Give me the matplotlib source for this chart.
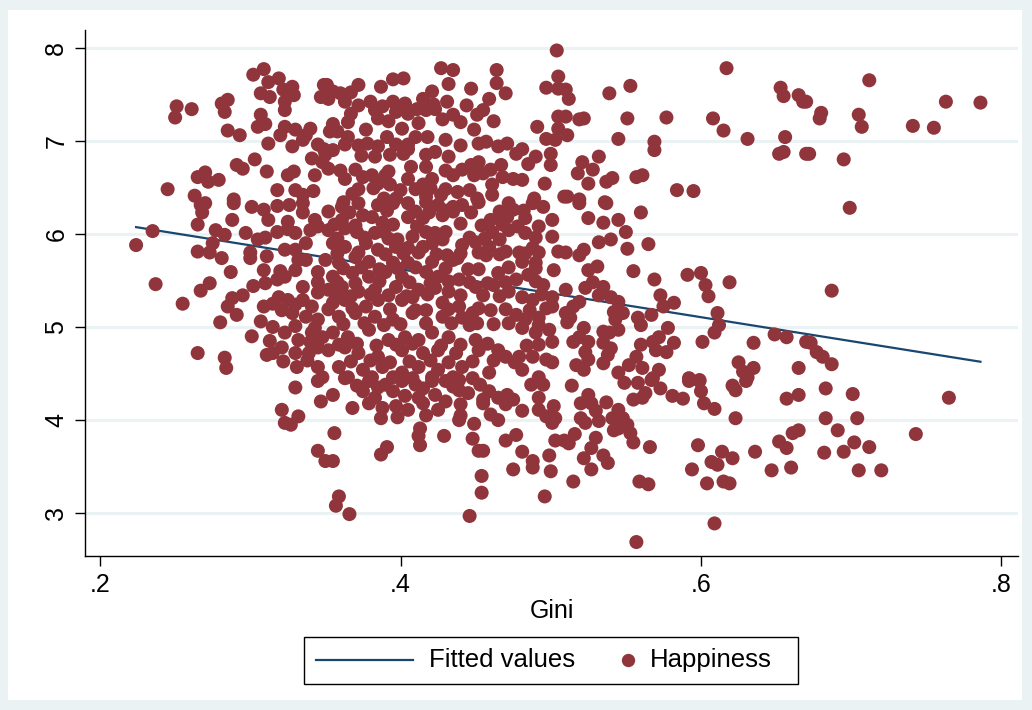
import matplotlib
matplotlib.use("Agg")
import matplotlib.pyplot as plt
from matplotlib.patches import Rectangle
from matplotlib.lines import Line2D
import numpy as np

plt.rcParams["font.family"] = ["Liberation Sans", "DejaVu Sans"]

# (Gini, Happiness) observations
obs = [
    (.309, 7.77), (.302, 7.71), (.312, 7.63), (.319, 7.67), (.322, 7.55), (.328, 7.58), (.329, 7.49),
    (.307, 7.51), (.313, 7.47), (.323, 7.42), (.323, 7.33), (.349, 7.60), (.347, 7.47), (.251, 7.37),
    (.261, 7.34), (.250, 7.25), (.281, 7.40), (.285, 7.44), (.283, 7.31), (.307, 7.28), (.310, 7.18),
    (.305, 7.15), (.285, 7.11), (.293, 7.06), (.323, 7.15), (.320, 7.06), (.330, 7.12), (.337, 7.06),
    (.340, 7.13), (.335, 7.01), (.312, 6.97), (.328, 6.94), (.345, 6.96), (.349, 6.91), (.341, 6.81),
    (.348, 6.77), (.343, 6.63), (.303, 6.80), (.291, 6.74), (.295, 6.70), (.311, 6.67), (.325, 6.63),
    (.329, 6.67), (.265, 6.61), (.270, 6.66), (.272, 6.56), (.279, 6.58), (.245, 6.48), (.263, 6.41),
    (.289, 6.37), (.318, 6.47), (.330, 6.47), (.335, 6.42), (.342, 6.46),
    (.504, 7.97), (.427, 7.78), (.435, 7.76), (.464, 7.76), (.464, 7.62), (.432, 7.61), (.447, 7.56),
    (.372, 7.60), (.387, 7.58), (.395, 7.66), (.402, 7.67), (.351, 7.60), (.497, 7.57), (.505, 7.56),
    (.505, 7.69), (.360, 7.51), (.367, 7.52), (.363, 7.42), (.352, 7.45), (.355, 7.53), (.380, 7.42),
    (.383, 7.33), (.395, 7.42), (.403, 7.40), (.415, 7.45), (.421, 7.53), (.431, 7.42), (.459, 7.45),
    (.470, 7.51), (.455, 7.33), (.451, 7.28), (.367, 7.29), (.397, 7.31), (.405, 7.29), (.411, 7.34),
    (.417, 7.33), (.423, 7.34), (.428, 7.23), (.435, 7.28), (.401, 7.13), (.385, 7.24), (.355, 7.18),
    (.358, 7.10), (.353, 7.10), (.377, 7.12), (.449, 7.12), (.491, 7.15), (.505, 7.26), (.505, 7.13),
    (.497, 7.02), (.503, 7.01), (.365, 7.04), (.363, 6.96), (.378, 6.97), (.391, 7.04), (.397, 6.96),
    (.410, 7.04), (.418, 7.04), (.430, 7.01), (.452, 6.97), (.457, 6.99), (.471, 6.97), (.481, 6.91),
    (.477, 6.86), (.490, 6.83), (.485, 6.75), (.500, 6.86), (.500, 6.74), (.355, 6.90), (.350, 6.85),
    (.374, 6.84), (.383, 6.83), (.393, 6.85), (.402, 6.86), (.405, 6.91), (.417, 6.85), (.423, 6.88),
    (.432, 6.83), (.352, 6.70), (.407, 6.72), (.417, 6.72), (.405, 6.59), (.421, 6.59), (.415, 6.53),
    (.363, 6.59), (.368, 6.43), (.375, 6.61), (.381, 6.63), (.385, 6.54), (.393, 6.53), (.390, 6.63),
    (.435, 6.63), (.441, 6.69), (.447, 6.74), (.452, 6.77), (.449, 6.63), (.455, 6.65), (.467, 6.74),
    (.461, 6.53), (.468, 6.61), (.475, 6.59), (.481, 6.58), (.430, 6.48), (.438, 6.45), (.427, 6.42),
    (.496, 6.54), (.489, 6.38), (.509, 6.40), (.362, 6.34), (.389, 6.38), (.397, 6.38), (.417, 6.40),
    (.451, 6.38), (.461, 6.42),
    (.617, 7.78), (.539, 7.51), (.553, 7.59), (.510, 7.55), (.512, 7.45), (.510, 7.26), (.519, 7.23),
    (.522, 7.24), (.551, 7.24), (.577, 7.25), (.608, 7.24), (.615, 7.11), (.631, 7.02), (.653, 7.57),
    (.655, 7.48), (.665, 7.49), (.668, 7.42), (.656, 7.04), (.652, 6.86), (.655, 6.88), (.670, 6.86),
    (.511, 7.06), (.545, 7.02), (.569, 6.99), (.569, 6.90), (.532, 6.83), (.521, 6.77), (.528, 6.69),
    (.518, 6.65), (.525, 6.54), (.537, 6.56), (.541, 6.60), (.557, 6.61), (.561, 6.63), (.584, 6.47),
    (.595, 6.46), (.511, 6.40), (.519, 6.37), (.536, 6.34),
    (.712, 7.65), (.670, 7.42), (.680, 7.30), (.679, 7.24), (.705, 7.28), (.707, 7.15), (.741, 7.16),
    (.755, 7.14), (.763, 7.42), (.786, 7.41), (.672, 6.86), (.695, 6.80),
    (.235, 6.03), (.224, 5.88), (.265, 6.10), (.268, 6.23), (.267, 6.31), (.270, 6.33), (.289, 6.33),
    (.288, 6.15), (.301, 6.29), (.309, 6.26), (.312, 6.15), (.277, 6.04), (.283, 5.99), (.275, 5.90),
    (.281, 5.74), (.273, 5.80), (.265, 5.81), (.297, 6.01), (.305, 5.94), (.310, 5.96), (.318, 6.02),
    (.300, 5.80), (.300, 5.74), (.311, 5.76), (.325, 6.13), (.335, 6.33), (.335, 6.23), (.343, 6.15),
    (.345, 6.08), (.330, 6.01), (.337, 5.90), (.323, 5.83), (.330, 5.83), (.332, 5.72), (.337, 5.72),
    (.287, 5.59), (.309, 5.61), (.237, 5.46), (.267, 5.39), (.273, 5.47), (.255, 5.25), (.302, 5.44),
    (.288, 5.31), (.295, 5.34), (.285, 5.22), (.291, 5.13), (.309, 5.22), (.280, 5.05), (.307, 5.06),
    (.318, 5.51), (.323, 5.54), (.319, 5.32), (.325, 5.29), (.335, 5.43), (.335, 5.29), (.341, 5.22),
    (.345, 5.37), (.321, 5.18), (.328, 5.15), (.337, 5.11), (.345, 5.08), (.323, 4.94), (.332, 4.86),
    (.341, 4.94), (.348, 4.89), (.321, 4.78), (.330, 4.72), (.339, 4.72), (.345, 4.78), (.315, 4.72),
    (.311, 4.70), (.331, 4.57), (.345, 4.57), (.348, 4.46), (.301, 4.90), (.265, 4.72), (.283, 4.67),
    (.284, 4.56),
    (.361, 6.29), (.372, 6.33), (.385, 6.31), (.395, 6.33), (.405, 6.33), (.417, 6.34), (.425, 6.31),
    (.435, 6.29), (.441, 6.31), (.452, 6.34), (.472, 6.33), (.475, 6.26), (.488, 6.33), (.495, 6.29),
    (.361, 6.15), (.375, 6.20), (.381, 6.18), (.388, 6.12), (.405, 6.18), (.415, 6.17), (.419, 6.23),
    (.428, 6.20), (.435, 6.24), (.460, 6.15), (.465, 6.17), (.471, 6.18), (.483, 6.17), (.501, 6.15),
    (.352, 6.04), (.363, 6.06), (.371, 6.02), (.383, 6.01), (.389, 6.02), (.398, 5.94), (.408, 5.97),
    (.417, 6.02), (.423, 6.01), (.430, 6.02), (.461, 6.02), (.472, 6.04), (.478, 6.08), (.483, 6.01),
    (.501, 5.97), (.355, 5.90), (.363, 5.86), (.377, 5.90), (.385, 5.83), (.397, 5.86), (.405, 5.85),
    (.415, 5.86), (.421, 5.90), (.431, 5.77), (.441, 5.88), (.450, 5.91), (.459, 5.86), (.470, 5.81),
    (.479, 5.80), (.488, 5.85), (.492, 5.80), (.505, 5.81), (.350, 5.72), (.359, 5.69), (.370, 5.75),
    (.379, 5.70), (.395, 5.69), (.405, 5.69), (.421, 5.70), (.435, 5.72), (.438, 5.74), (.457, 5.77),
    (.481, 5.70), (.490, 5.69), (.502, 5.61), (.355, 5.54), (.368, 5.58), (.379, 5.54), (.390, 5.59),
    (.401, 5.54), (.417, 5.59), (.425, 5.54), (.439, 5.51), (.445, 5.62), (.465, 5.58), (.477, 5.51),
    (.485, 5.56), (.495, 5.45), (.352, 5.40), (.361, 5.43), (.372, 5.38), (.383, 5.40), (.397, 5.43),
    (.412, 5.40), (.423, 5.42), (.432, 5.38), (.450, 5.43), (.455, 5.34), (.462, 5.45), (.472, 5.38),
    (.481, 5.32), (.488, 5.29), (.501, 5.32), (.501, 5.22), (.355, 5.26), (.363, 5.29), (.377, 5.22),
    (.385, 5.29), (.401, 5.29), (.408, 5.32), (.417, 5.18), (.428, 5.26), (.439, 5.22), (.448, 5.15),
    (.460, 5.18), (.477, 5.13), (.483, 5.08), (.492, 5.10), (.359, 5.11), (.370, 5.15), (.383, 5.11),
    (.395, 5.08), (.408, 5.15), (.417, 5.04), (.428, 5.11), (.441, 5.10), (.451, 5.04), (.481, 4.99),
    (.490, 4.94), (.499, 4.97), (.501, 4.84), (.355, 4.94), (.365, 4.89), (.379, 4.97), (.392, 4.86),
    (.403, 4.89), (.412, 4.86), (.421, 4.94), (.432, 4.89), (.450, 4.86), (.452, 4.75), (.465, 4.75),
    (.352, 4.75), (.363, 4.78), (.372, 4.72), (.385, 4.68), (.401, 4.75), (.415, 4.72), (.425, 4.75),
    (.437, 4.72), (.470, 4.68), (.479, 4.68), (.488, 4.68), (.497, 4.65), (.501, 4.62), (.359, 4.57),
    (.375, 4.54), (.388, 4.57), (.401, 4.51), (.412, 4.57), (.425, 4.54), (.441, 4.57), (.459, 4.51),
    (.481, 4.54), (.492, 4.46), (.365, 4.46), (.381, 4.46), (.395, 4.46), (.408, 4.45), (.421, 4.46),
    (.435, 4.46), (.448, 4.45),
    (.352, 6.24), (.366, 6.23), (.391, 6.25), (.410, 6.24), (.430, 6.25), (.447, 6.23), (.466, 6.24),
    (.482, 6.25), (.356, 6.10), (.370, 6.09), (.395, 6.10), (.411, 6.08), (.440, 6.11), (.454, 6.09),
    (.468, 6.10), (.492, 6.08), (.358, 5.95), (.376, 5.96), (.392, 5.95), (.428, 5.94), (.446, 5.96),
    (.456, 5.95), (.466, 5.94), (.490, 5.96), (.358, 5.79), (.372, 5.80), (.390, 5.78), (.402, 5.79),
    (.412, 5.80), (.424, 5.78), (.440, 5.79), (.452, 5.80), (.466, 5.78), (.483, 5.79), (.362, 5.63),
    (.374, 5.64), (.386, 5.62), (.398, 5.63), (.410, 5.64), (.430, 5.63), (.452, 5.62), (.472, 5.64),
    (.490, 5.63), (.358, 5.48), (.370, 5.47), (.386, 5.49), (.406, 5.48), (.420, 5.47), (.432, 5.49),
    (.446, 5.48), (.458, 5.47), (.470, 5.48), (.490, 5.49), (.357, 5.34), (.367, 5.33), (.380, 5.35),
    (.392, 5.34), (.404, 5.33), (.418, 5.35), (.440, 5.34), (.466, 5.33), (.494, 5.35), (.352, 5.19),
    (.368, 5.20), (.393, 5.19), (.410, 5.18), (.432, 5.19), (.452, 5.20), (.470, 5.19), (.486, 5.18),
    (.497, 5.20), (.362, 5.03), (.376, 5.04), (.389, 5.02), (.400, 5.03), (.434, 5.04), (.446, 5.02),
    (.462, 5.03), (.472, 5.04), (.492, 5.02), (.359, 4.81), (.371, 4.82), (.384, 4.80), (.397, 4.81),
    (.408, 4.82), (.427, 4.80), (.440, 4.81), (.458, 4.82), (.484, 4.80), (.492, 4.81), (.367, 4.63),
    (.380, 4.64), (.393, 4.62), (.406, 4.63), (.420, 4.64), (.432, 4.62), (.448, 4.63), (.462, 4.64),
    (.476, 4.62), (.372, 6.48), (.382, 6.49), (.400, 6.47), (.410, 6.48), (.420, 6.49), (.446, 6.47),
    (.360, 6.68), (.370, 6.69), (.392, 6.67), (.430, 6.68), (.460, 6.69), (.372, 6.95), (.385, 6.94),
    (.405, 6.96), (.440, 6.95), (.465, 6.94), (.365, 7.20), (.392, 7.21), (.412, 7.19), (.440, 7.20),
    (.462, 7.21), (.372, 7.38), (.388, 7.37), (.422, 7.39), (.444, 7.38), (.325, 6.05), (.340, 6.04),
    (.320, 5.60), (.330, 5.61), (.345, 5.59), (.315, 5.25), (.330, 5.24), (.315, 5.00), (.330, 5.01),
    (.343, 4.99), (.313, 4.85), (.340, 4.84), (.310, 5.47), (.345, 5.48), (.322, 4.63), (.338, 4.64),
    (.318, 6.30), (.326, 6.31), (.385, 4.35), (.415, 4.34), (.435, 4.36), (.415, 4.18), (.440, 4.17),
    (.455, 4.18), (.470, 4.17), (.440, 4.05), (.460, 4.06),
    (.519, 6.33), (.537, 6.33), (.525, 6.17), (.535, 6.12), (.545, 6.15), (.550, 6.02), (.560, 6.23),
    (.532, 5.91), (.540, 5.94), (.551, 5.84), (.565, 5.89), (.510, 5.80), (.519, 5.77), (.522, 5.83),
    (.525, 5.61), (.531, 5.65), (.555, 5.60), (.569, 5.51), (.591, 5.56), (.600, 5.58), (.603, 5.45),
    (.605, 5.33), (.619, 5.48), (.510, 5.40), (.528, 5.48), (.535, 5.43), (.523, 5.42), (.532, 5.34),
    (.573, 5.34), (.575, 5.22), (.582, 5.26), (.540, 5.32), (.545, 5.27), (.519, 5.27), (.515, 5.22),
    (.510, 5.15), (.513, 5.10), (.511, 5.05), (.542, 5.16), (.548, 5.15), (.543, 5.08), (.545, 4.97),
    (.539, 4.94), (.535, 4.95), (.558, 5.10), (.560, 5.02), (.567, 5.13), (.611, 5.15), (.612, 5.02),
    (.609, 4.94), (.578, 4.99), (.522, 4.99), (.519, 4.89), (.515, 4.84), (.525, 4.84), (.523, 4.73),
    (.525, 4.65), (.535, 4.83), (.540, 4.77), (.538, 4.70), (.535, 4.61), (.560, 4.81), (.568, 4.84),
    (.572, 4.89), (.570, 4.75), (.577, 4.73), (.582, 4.83), (.601, 4.84), (.635, 4.83), (.649, 4.92),
    (.657, 4.89), (.670, 4.84), (.557, 4.68), (.552, 4.59), (.561, 4.56), (.572, 4.54), (.545, 4.51),
    (.568, 4.45), (.517, 4.59), (.522, 4.54), (.625, 4.62), (.628, 4.52), (.635, 4.56), (.631, 4.46),
    (.665, 4.56), (.592, 4.45), (.599, 4.43),
    (.699, 6.28), (.687, 5.39), (.673, 4.83), (.677, 4.73), (.681, 4.68), (.687, 4.60),
    (.330, 4.35), (.345, 4.42), (.347, 4.20), (.321, 4.11), (.332, 4.04), (.323, 3.97), (.327, 3.95),
    (.345, 3.67), (.350, 3.56),
    (.379, 4.42), (.390, 4.38), (.401, 4.42), (.410, 4.38), (.421, 4.42), (.430, 4.42), (.439, 4.43),
    (.375, 4.31), (.383, 4.24), (.395, 4.31), (.403, 4.26), (.412, 4.24), (.423, 4.27), (.430, 4.20),
    (.379, 4.18), (.388, 4.13), (.397, 4.15), (.405, 4.11), (.425, 4.11), (.355, 4.27), (.368, 4.13),
    (.371, 4.37), (.363, 4.45), (.387, 4.02), (.398, 4.03), (.417, 4.05), (.439, 4.32), (.445, 4.29),
    (.453, 4.38), (.459, 4.31), (.455, 4.22), (.465, 4.24), (.471, 4.27), (.475, 4.22), (.481, 4.10),
    (.487, 4.38), (.495, 4.38), (.492, 4.24), (.492, 4.11), (.502, 4.15), (.413, 3.91), (.412, 3.83),
    (.413, 3.73), (.429, 3.83), (.439, 4.00), (.449, 3.96), (.448, 3.80), (.452, 3.67), (.455, 3.67),
    (.465, 4.00), (.470, 3.78), (.477, 3.84), (.481, 3.66), (.488, 3.56), (.488, 3.49), (.499, 3.62),
    (.500, 3.45), (.497, 4.04), (.503, 4.02), (.501, 3.97), (.503, 3.78), (.509, 3.78), (.475, 3.47),
    (.454, 3.40), (.454, 3.22), (.446, 2.97), (.496, 3.18), (.356, 3.86), (.355, 3.56), (.391, 3.71),
    (.387, 3.63), (.359, 3.18), (.357, 3.08), (.366, 2.99),
    (.514, 4.37), (.525, 4.27), (.520, 4.18), (.527, 4.18), (.530, 4.10), (.520, 4.02), (.523, 3.97),
    (.532, 3.99), (.537, 4.19), (.545, 4.11), (.541, 4.02), (.548, 4.02), (.551, 3.95), (.542, 3.89),
    (.545, 3.91), (.553, 3.86), (.516, 3.85), (.512, 3.75), (.530, 3.81), (.527, 3.70), (.522, 3.59),
    (.535, 3.62), (.538, 3.54), (.555, 3.76), (.527, 3.47), (.566, 3.71), (.515, 3.34), (.559, 3.34),
    (.565, 3.31), (.549, 4.40), (.558, 4.40), (.567, 4.43), (.573, 4.34), (.581, 4.26), (.588, 4.23),
    (.555, 4.22), (.561, 4.24), (.563, 4.29), (.592, 4.42), (.599, 4.42), (.600, 4.31), (.602, 4.18),
    (.609, 4.12), (.621, 4.37), (.630, 4.42), (.623, 4.32), (.623, 4.02), (.657, 4.23), (.665, 4.27),
    (.598, 3.73), (.594, 3.47), (.607, 3.55), (.611, 3.52), (.614, 3.66), (.621, 3.59), (.604, 3.32),
    (.615, 3.34), (.619, 3.32), (.636, 3.66), (.652, 3.77), (.657, 3.70), (.661, 3.86), (.665, 3.89),
    (.647, 3.46), (.660, 3.49), (.609, 2.89), (.557, 2.69),
    (.683, 4.34), (.701, 4.28), (.683, 4.02), (.704, 4.02), (.691, 3.89), (.682, 3.65), (.695, 3.66),
    (.702, 3.76), (.705, 3.46), (.720, 3.46), (.712, 3.71), (.743, 3.85), (.765, 4.24),
]
gini, happiness = np.array(obs).T

# linear fit: Happiness on Gini
fit_intercept = 6.649
fit_slope = -2.573

x_ticks = [0.2, 0.4, 0.6, 0.8]
x_tick_labels = [".2", ".4", ".6", ".8"]
y_ticks = [3, 4, 5, 6, 7, 8]

maroon = "#90353B"
navy = "#1A476F"
bg = "#EAF2F3"

W, H = 1032, 710
fig = plt.figure(figsize=(W / 100, H / 100), dpi=100, facecolor=bg)
fig.patches.append(Rectangle((8 / W, 10 / H), (1022 - 8) / W, (700 - 10) / H,
                             transform=fig.transFigure, facecolor="white",
                             edgecolor="none", zorder=-10))

ax = fig.add_axes([85 / W, 1 - 556 / H, (1018 - 85) / W, (556 - 30) / H])
ax.set_facecolor("white")

fit_x = np.array([gini.min(), gini.max()])
fit_y = fit_intercept + fit_slope * fit_x
ax.plot(fit_x, fit_y, color=navy, lw=1.6, zorder=2)
ax.scatter(gini, happiness, s=102, color=maroon, edgecolors="none", zorder=3)

ax.set_xlim(0.190, 0.811)
ax.set_ylim(2.54, 8.19)
ax.set_xticks(x_ticks)
ax.set_xticklabels(x_tick_labels)
ax.set_yticks(y_ticks)
ax.set_yticklabels([str(v) for v in y_ticks], rotation=90, va="center")
ax.tick_params(axis="both", length=7, width=1, labelsize=18, color="black", pad=5)
ax.grid(axis="y", color=bg, lw=2.2, zorder=0)
ax.set_axisbelow(True)
for side in ("top", "right"):
    ax.spines[side].set_visible(False)
for side in ("left", "bottom"):
    ax.spines[side].set_linewidth(1.0)
ax.set_xlabel("Gini", fontsize=18, labelpad=2)

# legend box
fig.patches.append(Rectangle((304 / W, 1 - 684 / H), (798 - 304) / W, (684 - 637) / H,
                             transform=fig.transFigure, facecolor="white",
                             edgecolor="black", lw=1.0, zorder=5))
fig.lines.append(Line2D([316 / W, 413 / W], [1 - 660 / H] * 2, transform=fig.transFigure,
                        color=navy, lw=1.6, zorder=6))
fig.lines.append(Line2D([628 / W], [1 - 660 / H], transform=fig.transFigure, marker="o",
                        markersize=9.6, color=maroon, markeredgewidth=0, zorder=6))
fig.text(429 / W, 1 - 660 / H, "Fitted values", fontsize=18.5, va="center", ha="left", zorder=7)
fig.text(650 / W, 1 - 660 / H, "Happiness", fontsize=18.5, va="center", ha="left", zorder=7)

fig.savefig("out.png", dpi=100, facecolor=bg)
